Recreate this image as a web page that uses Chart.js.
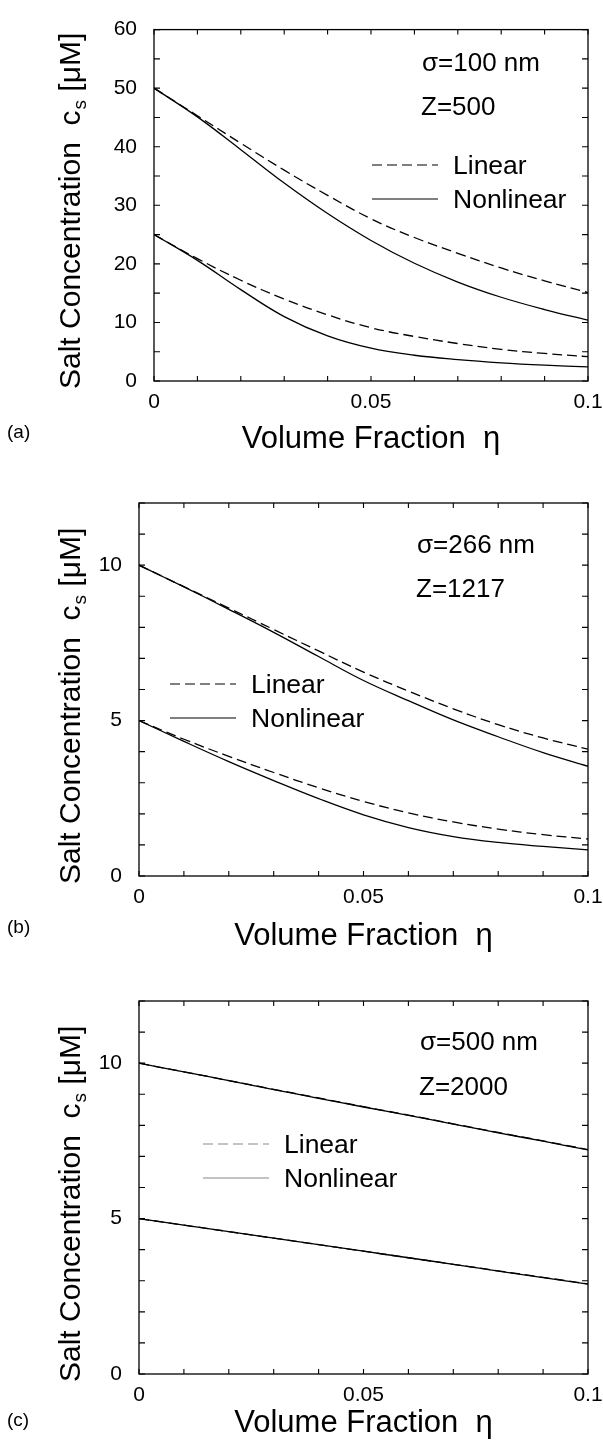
<!DOCTYPE html>
<html>

<head>
    <title>Salt concentration vs volume fraction</title>
    <meta charset="utf-8" />
    <style>
        html, body { margin: 0; padding: 0; background: #fff; overflow: hidden; width: 603px; height: 1451px; }
        canvas { position: absolute; left: 0; }
    </style>
</head>

<body>
    <canvas id="panelA" width="640" height="455" style="top:0px"></canvas>
    <canvas id="panelB" width="640" height="497" style="top:455px"></canvas>
    <canvas id="panelC" width="640" height="499" style="top:952px"></canvas>

    <script src="https://cdn.jsdelivr.net/npm/chart.js"></script>
    <script type="text/javascript">
        // volume fraction grid shared by every curve
        const eta = [0, 0.01, 0.02, 0.03, 0.04, 0.05, 0.06, 0.07, 0.08, 0.09, 0.1];
        const xTickLabels = [0, 0.05, 0.1];

        // (a) sigma = 100 nm, Z = 500
        const aLinearHigh = [50, 45.3, 40.6, 36.0, 31.7, 27.7, 24.5, 21.8, 19.3, 17.1, 15.1];
        const aNonlinearHigh = [50, 45.1, 39.5, 33.8, 28.6, 24.0, 20.1, 16.9, 14.3, 12.2, 10.4];
        const aLinearLow = [25, 20.9, 17.2, 14.0, 11.3, 9.1, 7.6, 6.4, 5.4, 4.7, 4.15];
        const aNonlinearLow = [25, 20.6, 15.6, 11.0, 7.7, 5.6, 4.4, 3.65, 3.1, 2.7, 2.4];
        const aYTickLabels = [0, 10, 20, 30, 40, 50, 60];

        // (b) sigma = 266 nm, Z = 1217
        const bLinearHigh = [10, 9.31, 8.62, 7.93, 7.24, 6.56, 5.95, 5.38, 4.87, 4.44, 4.08];
        const bNonlinearHigh = [10, 9.30, 8.58, 7.84, 7.06, 6.29, 5.64, 5.02, 4.48, 3.97, 3.53];
        const bLinearLow = [5, 4.40, 3.85, 3.33, 2.84, 2.40, 2.03, 1.74, 1.51, 1.33, 1.19];
        const bNonlinearLow = [5, 4.33, 3.68, 3.07, 2.49, 1.97, 1.56, 1.27, 1.08, 0.95, 0.84];

        // (c) sigma = 500 nm, Z = 2000
        const cLinearHigh = [10, 9.72, 9.44, 9.16, 8.88, 8.60, 8.33, 8.05, 7.77, 7.50, 7.22];
        const cNonlinearHigh = [10, 9.72, 9.44, 9.15, 8.87, 8.59, 8.32, 8.04, 7.76, 7.49, 7.21];
        const cLinearLow = [5, 4.79, 4.58, 4.37, 4.16, 3.95, 3.74, 3.53, 3.32, 3.11, 2.90];
        const cNonlinearLow = [5, 4.79, 4.58, 4.37, 4.16, 3.95, 3.74, 3.53, 3.31, 3.10, 2.89];
        const bcYTickLabels = [0, 5, 10];

        const FONT = '"Liberation Sans", Arial, Helvetica, sans-serif';
        const DASH = [10, 5];

        function isLabelled(v, list) {
            return list.some(l => Math.abs(l - v) < 1e-6);
        }

        function points(ys) {
            return ys.map((y, i) => ({ x: eta[i], y: y }));
        }

        // frame, inward ticks on all four sides, titles, notes and legend
        const panelDecor = {
            id: 'panelDecor',
            afterDraw(chart, args, o) {
                const ctx = chart.ctx;
                const a = chart.chartArea;
                const xs = chart.scales.x;
                const ys = chart.scales.y;
                ctx.save();

                ctx.strokeStyle = '#000';
                ctx.lineWidth = 1.3;
                ctx.strokeRect(a.left, a.top, a.right - a.left, a.bottom - a.top);

                ctx.lineWidth = 1.1;
                ctx.beginPath();
                xs.ticks.forEach(t => {
                    const px = xs.getPixelForValue(t.value);
                    ctx.moveTo(px, a.bottom); ctx.lineTo(px, a.bottom - 5);
                    ctx.moveTo(px, a.top); ctx.lineTo(px, a.top + 5);
                });
                ys.ticks.forEach(t => {
                    const py = ys.getPixelForValue(t.value);
                    ctx.moveTo(a.left, py); ctx.lineTo(a.left + 6, py);
                    ctx.moveTo(a.right, py); ctx.lineTo(a.right - 6, py);
                });
                ctx.stroke();

                ctx.fillStyle = '#000';
                ctx.textBaseline = 'alphabetic';

                // x axis title
                ctx.textAlign = 'center';
                ctx.font = '31px ' + FONT;
                ctx.fillText('Volume Fraction  \u03b7', (a.left + a.right) / 2, o.xTitleY);

                // y axis title with subscript s
                ctx.save();
                ctx.translate(80, a.bottom + 8);
                ctx.rotate(-Math.PI / 2);
                ctx.textAlign = 'left';
                ctx.font = '30px ' + FONT;
                const head = 'Salt Concentration  c';
                ctx.fillText(head, 0, 0);
                let w = ctx.measureText(head).width;
                ctx.font = '19px ' + FONT;
                ctx.fillText('s', w + 1, 6);
                w += ctx.measureText('s').width + 1;
                ctx.font = '30px ' + FONT;
                ctx.fillText(' [\u03bcM]', w, 0);
                ctx.restore();

                // panel letter
                ctx.textAlign = 'left';
                ctx.font = '19px ' + FONT;
                ctx.fillText(o.letter, 7, o.letterY);

                // parameters
                ctx.font = '26px ' + FONT;
                ctx.fillText(o.sigma, o.noteX, o.sigmaY);
                ctx.fillText(o.charge, o.noteX - 1, o.chargeY);

                // legend
                ctx.font = '26.5px ' + FONT;
                ctx.fillText('Linear', o.legX + 81, o.legY);
                ctx.fillText('Nonlinear', o.legX + 81, o.legY + 34);
                ctx.strokeStyle = o.legColor;
                ctx.lineWidth = 1.2;
                ctx.setLineDash(DASH);
                ctx.beginPath();
                ctx.moveTo(o.legX, o.legY - 9); ctx.lineTo(o.legX + 66, o.legY - 9);
                ctx.stroke();
                ctx.setLineDash([]);
                ctx.beginPath();
                ctx.moveTo(o.legX, o.legY + 25); ctx.lineTo(o.legX + 66, o.legY + 25);
                ctx.stroke();

                ctx.restore();
            }
        };

        function panel(id, curves, yMax, yStep, yLabels, box, decor) {
            const canvas = document.getElementById(id);
            const datasets = curves.map(c => ({
                data: points(c.values),
                borderColor: '#000',
                borderWidth: 1.3,
                borderDash: c.dashed ? DASH : [],
                pointRadius: 0,
                fill: false,
                tension: 0.4
            }));

            new Chart(canvas, {
                type: 'line',
                data: { datasets: datasets },
                options: {
                    responsive: false,
                    animation: false,
                    events: [],
                    layout: {
                        padding: { left: 0, top: box.top, right: canvas.width - box.right, bottom: 0 }
                    },
                    plugins: {
                        legend: { display: false },
                        tooltip: { enabled: false },
                        panelDecor: decor
                    },
                    scales: {
                        x: {
                            type: 'linear',
                            min: 0,
                            max: 0.1,
                            afterFit: s => { s.height = canvas.height - box.bottom; },
                            grid: { display: true, drawOnChartArea: false, drawTicks: false },
                            border: { display: false },
                            ticks: {
                                stepSize: 0.01,
                                autoSkip: false,
                                maxRotation: 0,
                                maxTicksLimit: 100,
                                padding: 9,
                                color: '#000',
                                font: { family: FONT, size: 21 },
                                callback: v => isLabelled(v, xTickLabels) ? String(+v.toFixed(2)) : ''
                            }
                        },
                        y: {
                            type: 'linear',
                            min: 0,
                            max: yMax,
                            afterFit: s => { s.width = box.left; },
                            grid: { display: true, drawOnChartArea: false, drawTicks: false },
                            border: { display: false },
                            ticks: {
                                stepSize: yStep,
                                autoSkip: false,
                                maxTicksLimit: 100,
                                padding: 17,
                                color: '#000',
                                font: { family: FONT, size: 21 },
                                callback: v => isLabelled(v, yLabels) ? String(v) : ''
                            }
                        }
                    }
                },
                plugins: [panelDecor]
            });
        }

        panel('panelA', [
            { values: aLinearHigh, dashed: true },
            { values: aNonlinearHigh, dashed: false },
            { values: aLinearLow, dashed: true },
            { values: aNonlinearLow, dashed: false }
        ], 60, 5, aYTickLabels,
            { left: 154, right: 588, top: 20, bottom: 381 },
            { letter: '(a)', letterY: 438, xTitleY: 448, sigma: '\u03c3=100 nm', charge: 'Z=500',
              noteX: 422, sigmaY: 71, chargeY: 115, legX: 372, legY: 174, legColor: '#000' });

        panel('panelB', [
            { values: bLinearHigh, dashed: true },
            { values: bNonlinearHigh, dashed: false },
            { values: bLinearLow, dashed: true },
            { values: bNonlinearLow, dashed: false }
        ], 12, 1, bcYTickLabels,
            { left: 139, right: 588, top: 48, bottom: 421 },
            { letter: '(b)', letterY: 478, xTitleY: 490, sigma: '\u03c3=266 nm', charge: 'Z=1217',
              noteX: 417, sigmaY: 98, chargeY: 142, legX: 170, legY: 238, legColor: '#000' });

        panel('panelC', [
            { values: cLinearHigh, dashed: true },
            { values: cNonlinearHigh, dashed: false },
            { values: cLinearLow, dashed: true },
            { values: cNonlinearLow, dashed: false }
        ], 12, 1, bcYTickLabels,
            { left: 139, right: 588, top: 49, bottom: 422 },
            { letter: '(c)', letterY: 474, xTitleY: 480, sigma: '\u03c3=500 nm', charge: 'Z=2000',
              noteX: 420, sigmaY: 98, chargeY: 143, legX: 203, legY: 201, legColor: '#888' });
    </script>
</body>

</html>
